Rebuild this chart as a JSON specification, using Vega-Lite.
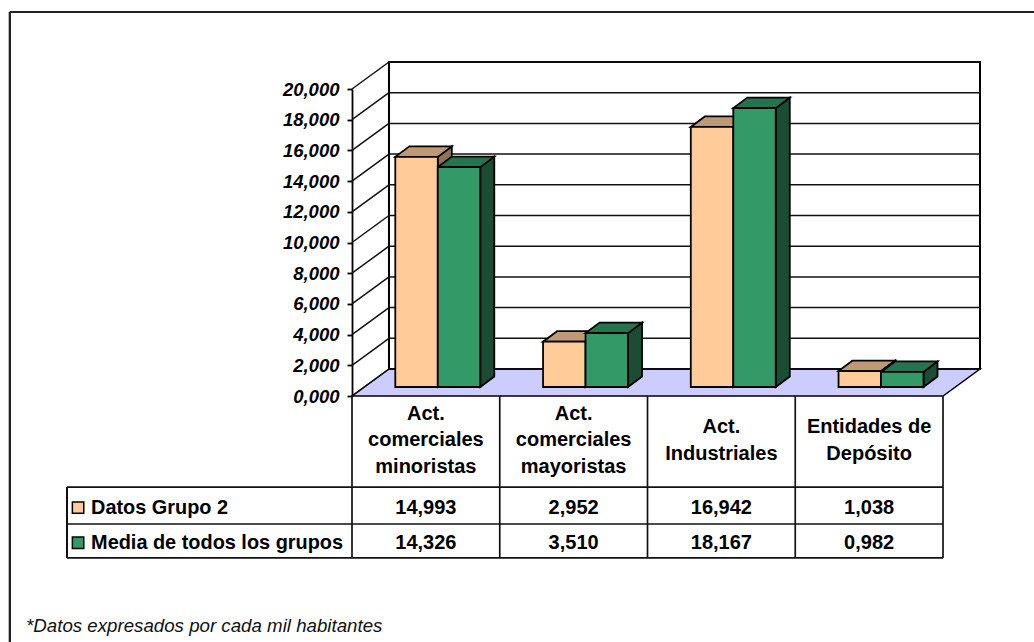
{
  "$schema": "https://vega.github.io/schema/vega-lite/v6.json",
  "width": 591,
  "height": 307,
  "autosize": {"type": "none"},
  "padding": {"left": 352, "top": 89, "right": 91, "bottom": 246},
  "background": "white",
  "config": {"view": {"stroke": null}, "font": "Liberation Sans"},
  "data": {"values": [
    {"categoria": "Act.\ncomerciales\nminoristas", "serie": "Datos Grupo 2", "valor": 14.993},
    {"categoria": "Act.\ncomerciales\nmayoristas", "serie": "Datos Grupo 2", "valor": 2.952},
    {"categoria": "Act.\nIndustriales", "serie": "Datos Grupo 2", "valor": 16.942},
    {"categoria": "Entidades de\nDepósito", "serie": "Datos Grupo 2", "valor": 1.038},
    {"categoria": "Act.\ncomerciales\nminoristas", "serie": "Media de todos los grupos", "valor": 14.326},
    {"categoria": "Act.\ncomerciales\nmayoristas", "serie": "Media de todos los grupos", "valor": 3.51},
    {"categoria": "Act.\nIndustriales", "serie": "Media de todos los grupos", "valor": 18.167},
    {"categoria": "Entidades de\nDepósito", "serie": "Media de todos los grupos", "valor": 0.982}
  ]},
  "transform": [
    {"calculate": "indexof(['Act.\\ncomerciales\\nminoristas','Act.\\ncomerciales\\nmayoristas','Act.\\nIndustriales','Entidades de\\nDepósito'], datum.categoria)", "as": "i"},
    {"calculate": "datum.serie === 'Datos Grupo 2' ? 0 : 1", "as": "s"},
    {"calculate": "datum.i + 0.293 + datum.s * 0.2876", "as": "x0"},
    {"calculate": "datum.x0 + 0.2876", "as": "x1"},
    {"calculate": "0.586", "as": "base"},
    {"calculate": "datum.base + datum.valor", "as": "cima"},
    {"calculate": "replace(format(datum.valor, '.3f'), '.', ',')", "as": "rotulo"},
    {"calculate": "datum.s === 0 ? -7.27 : -9.56", "as": "fila"},
    {"calculate": "datum.i < 2 ? -1.17 : -2.02", "as": "filaCategoria"}
  ],
  "resolve": {"scale": {"color": "independent"}},
  "layer": [
    {
      "description": "Marco exterior, borde superior",
      "mark": {"type": "rule", "stroke": "#222222", "strokeWidth": 2},
      "encoding": {
        "x": {"datum": -2.315, "type": "quantitative", "scale": {"domain": [0, 4], "nice": false, "zero": false}, "axis": null},
        "x2": {"datum": 4.615},
        "y": {"datum": 25.02, "type": "quantitative", "scale": {"domain": [0, 20], "nice": false, "zero": false},
          "axis": {
            "orient": "left", "title": null, "values": [0, 2, 4, 6, 8, 10, 12, 14, 16, 18, 20], "tickCount": 11,
            "labelExpr": "replace(format(datum.value, '.3f'), '.', ',')",
            "labelFont": "Liberation Sans", "labelFontSize": 18.5, "labelFontWeight": "bold", "labelFontStyle": "italic",
            "labelColor": "black", "labelPadding": 8, "labelOverlap": false, "labelFlush": false,
            "domainColor": "black", "domainWidth": 1.8, "tickColor": "black", "tickWidth": 1.8, "tickSize": 5, "grid": false
          }}
      }
    },
    {
      "description": "Marco exterior, borde izquierdo",
      "mark": {"type": "rule", "stroke": "#222222", "strokeWidth": 2},
      "encoding": {
        "x": {"datum": -2.315, "type": "quantitative"},
        "y": {"datum": 25.02, "type": "quantitative"},
        "y2": {"datum": -16.03}
      }
    },
    {
      "description": "Suelo del gráfico",
      "data": {"values": [{"d": 0}, {"d": 1}]},
      "transform": [
        {"calculate": "datum.d * 0.2504", "as": "xa"},
        {"calculate": "4 + datum.d * 0.2504", "as": "xb"},
        {"calculate": "datum.d * 1.76", "as": "yf"}
      ],
      "mark": {"type": "area", "orient": "horizontal", "fill": "#CCCCFF", "stroke": "black", "strokeWidth": 1.5},
      "encoding": {
        "x": {"field": "xa", "type": "quantitative"},
        "x2": {"field": "xb"},
        "y": {"field": "yf", "type": "quantitative"}
      }
    },
    {
      "description": "Pared del fondo",
      "mark": {"type": "rect", "fill": "white", "stroke": "black", "strokeWidth": 2},
      "encoding": {
        "x": {"datum": 0.2504, "type": "quantitative"},
        "x2": {"datum": 4.2504},
        "y": {"datum": 1.76, "type": "quantitative"},
        "y2": {"datum": 21.76}
      }
    },
    {
      "description": "Líneas de división sobre la pared del fondo y la lateral",
      "data": {"values": [{"marca": 0}, {"marca": 2}, {"marca": 4}, {"marca": 6}, {"marca": 8}, {"marca": 10}, {"marca": 12}, {"marca": 14}, {"marca": 16}, {"marca": 18}, {"marca": 20}]},
      "transform": [{"calculate": "datum.marca + 1.76", "as": "atras"}],
      "layer": [
        {
          "mark": {"type": "rule", "stroke": "#111111", "strokeWidth": 1.5},
          "encoding": {
            "x": {"datum": 0.2504, "type": "quantitative"},
            "x2": {"datum": 4.2504},
            "y": {"field": "atras", "type": "quantitative"}
          }
        },
        {
          "mark": {"type": "rule", "stroke": "#111111", "strokeWidth": 1.5},
          "encoding": {
            "x": {"datum": 0, "type": "quantitative"},
            "x2": {"datum": 0.2504},
            "y": {"field": "marca", "type": "quantitative"},
            "y2": {"field": "atras"}
          }
        }
      ]
    },
    {
      "description": "Caras laterales de las barras",
      "transform": [
        {"calculate": "[0, 1]", "as": "d"},
        {"flatten": ["d"]},
        {"calculate": "datum.x1 + datum.d * 0.0948", "as": "xs"},
        {"calculate": "datum.base + datum.d * 0.684", "as": "ya"},
        {"calculate": "datum.cima + datum.d * 0.684", "as": "yb"}
      ],
      "mark": {"type": "area", "stroke": "black", "strokeWidth": 1.8},
      "encoding": {
        "x": {"field": "xs", "type": "quantitative"},
        "y": {"field": "ya", "type": "quantitative"},
        "y2": {"field": "yb"},
        "detail": {"field": "categoria"},
        "color": {"field": "serie", "legend": null, "scale": {"domain": ["Datos Grupo 2", "Media de todos los grupos"], "range": ["#8F7357", "#1A4D33"]}}
      }
    },
    {
      "description": "Caras superiores de las barras",
      "transform": [
        {"calculate": "[0, 1]", "as": "d"},
        {"flatten": ["d"]},
        {"calculate": "datum.x0 + datum.d * 0.0948", "as": "xa"},
        {"calculate": "datum.x1 + datum.d * 0.0948", "as": "xb"},
        {"calculate": "datum.cima + datum.d * 0.684", "as": "yt"}
      ],
      "mark": {"type": "area", "orient": "horizontal", "stroke": "black", "strokeWidth": 1.8},
      "encoding": {
        "x": {"field": "xa", "type": "quantitative"},
        "x2": {"field": "xb"},
        "y": {"field": "yt", "type": "quantitative"},
        "detail": {"field": "categoria"},
        "color": {"field": "serie", "legend": null, "scale": {"domain": ["Datos Grupo 2", "Media de todos los grupos"], "range": ["#BF9973", "#267350"]}}
      }
    },
    {
      "description": "Caras frontales de las barras",
      "mark": {"type": "rect", "stroke": "black", "strokeWidth": 1.8},
      "encoding": {
        "x": {"field": "x0", "type": "quantitative"},
        "x2": {"field": "x1"},
        "y": {"field": "base", "type": "quantitative"},
        "y2": {"field": "cima"},
        "color": {"field": "serie", "legend": null, "scale": {"domain": ["Datos Grupo 2", "Media de todos los grupos"], "range": ["#FFCC99", "#339966"]}}
      }
    },
    {
      "description": "Líneas verticales de la tabla de datos",
      "data": {"values": [{"borde": 0}, {"borde": 1}, {"borde": 2}, {"borde": 3}, {"borde": 4}]},
      "mark": {"type": "rule", "stroke": "#111111", "strokeWidth": 1.7},
      "encoding": {
        "x": {"field": "borde", "type": "quantitative"},
        "y": {"datum": 0, "type": "quantitative"},
        "y2": {"datum": -10.55}
      }
    },
    {
      "description": "Líneas horizontales de la tabla de datos",
      "data": {"values": [{"linea": -5.93}, {"linea": -8.34}, {"linea": -10.55}]},
      "mark": {"type": "rule", "stroke": "#111111", "strokeWidth": 1.7},
      "encoding": {
        "x": {"datum": -1.929, "type": "quantitative"},
        "x2": {"datum": 4},
        "y": {"field": "linea", "type": "quantitative"}
      }
    },
    {
      "description": "Borde izquierdo de la tabla",
      "mark": {"type": "rule", "stroke": "#111111", "strokeWidth": 1.7},
      "encoding": {
        "x": {"datum": -1.929, "type": "quantitative"},
        "y": {"datum": -5.93, "type": "quantitative"},
        "y2": {"datum": -10.55}
      }
    },
    {
      "description": "Nombres de categoría",
      "transform": [{"filter": "datum.s === 0"}, {"calculate": "datum.i + 0.5", "as": "centro"}],
      "mark": {"type": "text", "lineBreak": "\n", "lineHeight": 26.5, "align": "center", "baseline": "middle", "font": "Liberation Sans", "fontWeight": "bold", "fontSize": 20, "color": "black"},
      "encoding": {
        "x": {"field": "centro", "type": "quantitative"},
        "y": {"field": "filaCategoria", "type": "quantitative"},
        "text": {"field": "categoria"}
      }
    },
    {
      "description": "Valores de la tabla",
      "transform": [{"calculate": "datum.i + 0.5", "as": "centro"}],
      "mark": {"type": "text", "align": "center", "baseline": "middle", "font": "Liberation Sans", "fontWeight": "bold", "fontSize": 20, "color": "black"},
      "encoding": {
        "x": {"field": "centro", "type": "quantitative"},
        "y": {"field": "fila", "type": "quantitative"},
        "text": {"field": "rotulo"}
      }
    },
    {
      "description": "Nombres de las series",
      "transform": [{"filter": "datum.i === 0"}],
      "mark": {"type": "text", "align": "left", "baseline": "middle", "font": "Liberation Sans", "fontWeight": "bold", "fontSize": 19.9, "color": "black"},
      "encoding": {
        "x": {"datum": -1.766, "type": "quantitative"},
        "y": {"field": "fila", "type": "quantitative"},
        "text": {"field": "serie"}
      }
    },
    {
      "description": "Muestras de color de las series",
      "transform": [{"filter": "datum.i === 0"}],
      "mark": {"type": "point", "shape": "square", "filled": true, "size": 130, "stroke": "black", "strokeWidth": 1.5, "opacity": 1},
      "encoding": {
        "x": {"datum": -1.854, "type": "quantitative"},
        "y": {"field": "fila", "type": "quantitative"},
        "fill": {"field": "serie", "legend": null, "scale": {"domain": ["Datos Grupo 2", "Media de todos los grupos"], "range": ["#FFCC99", "#339966"]}}
      }
    },
    {
      "description": "Nota al pie",
      "data": {"values": [{"nota": "*Datos expresados por cada mil habitantes"}]},
      "mark": {"type": "text", "align": "left", "baseline": "middle", "font": "Liberation Sans", "fontStyle": "italic", "fontSize": 18.7, "color": "#111111"},
      "encoding": {
        "x": {"datum": -2.206, "type": "quantitative"},
        "y": {"datum": -14.98, "type": "quantitative"},
        "text": {"field": "nota"}
      }
    }
  ]
}
